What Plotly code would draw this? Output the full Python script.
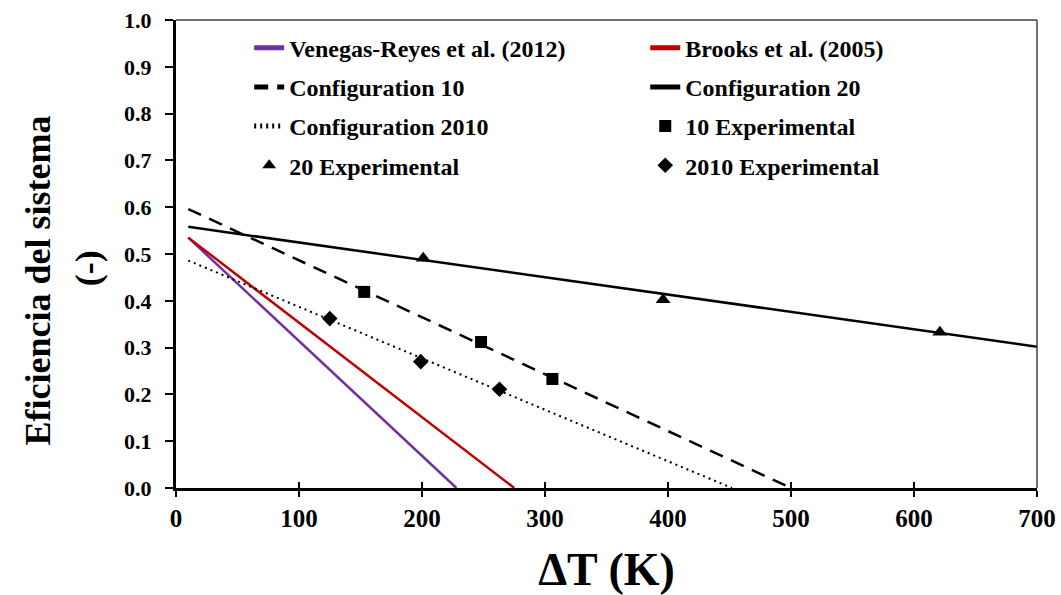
import plotly.graph_objects as go

# ---- data ----
venegas_x = [10, 228]
venegas_y = [0.535, 0.0]
brooks_x = [10, 275]
brooks_y = [0.535, 0.0]
conf10_x = [10, 500]
conf10_y = [0.596, 0.0]
conf20_x = [10, 700]
conf20_y = [0.558, 0.302]
conf2010_x = [10, 452]
conf2010_y = [0.486, 0.0]

exp10_x = [153, 248, 306]
exp10_y = [0.419, 0.312, 0.233]
exp20_x = [201, 396, 621]
exp20_y = [0.491, 0.402, 0.333]
exp2010_x = [125, 199, 263]
exp2010_y = [0.362, 0.270, 0.211]

x_ticks = [0, 100, 200, 300, 400, 500, 600, 700]
y_ticks = [0.0, 0.1, 0.2, 0.3, 0.4, 0.5, 0.6, 0.7, 0.8, 0.9, 1.0]

FONT = "Liberation Serif"
fig = go.Figure()

def line(x, y, name, color, dash, width, legend, grp):
    fig.add_trace(go.Scatter(x=x, y=y, mode="lines", name=name,
                             line=dict(color=color, dash=dash, width=width),
                             legend=legend, legendgroup=grp))

def pts(x, y, name, symbol, size, legend, grp):
    fig.add_trace(go.Scatter(x=x, y=y, mode="markers", name=name,
                             marker=dict(symbol=symbol, size=size, color="black"),
                             legend=legend, legendgroup=grp))

line(venegas_x, venegas_y, "Venegas-Reyes et al. (2012)", "#7030A0", "solid", 2.5, "legend", "a")
line(brooks_x, brooks_y, "Brooks et al. (2005)", "#C00000", "solid", 2.5, "legend2", "b")
line(conf10_x, conf10_y, "Configuration 10", "black", "14px,9px", 2.5, "legend", "c")
line(conf20_x, conf20_y, "Configuration 20", "black", "solid", 2.5, "legend2", "d")
line(conf2010_x, conf2010_y, "Configuration 2010", "black", "2px,4px", 2, "legend", "e")
pts(exp10_x, exp10_y, "10 Experimental", "square", 12, "legend2", "f")
pts(exp20_x, exp20_y, "20 Experimental", "triangle-up", 13, "legend", "g")
pts(exp2010_x, exp2010_y, "2010 Experimental", "diamond", 12, "legend2", "h")

# invisible trace to carry the overlay axis (inner half of crossing x ticks)
fig.add_trace(go.Scatter(x=[0], y=[0], xaxis="x2", mode="markers",
                         marker=dict(opacity=0), showlegend=False, hoverinfo="skip"))

legend_common = dict(font=dict(family=FONT, size=24, color="black", weight="bold"),
                     bgcolor="rgba(0,0,0,0)", tracegroupgap=5, yanchor="top",
                     xanchor="left", orientation="v", itemsizing="constant")

fig.update_layout(
    width=1061, height=595,
    margin=dict(l=176, r=24, t=20, b=107, autoexpand=False),
    paper_bgcolor="white", plot_bgcolor="white",
    font=dict(family=FONT, color="black"),
    showlegend=True,
    legend=dict(x=0.085, y=0.988, **legend_common),
    legend2=dict(x=0.545, y=0.988, **legend_common),
    xaxis=dict(range=[0, 700], tickvals=x_ticks, showline=True, linewidth=3,
               linecolor="black", ticks="outside", ticklen=6, tickwidth=2,
               tickcolor="black", showgrid=False, zeroline=False,
               ticklabeloverflow="allow",
               tickfont=dict(family=FONT, size=25, weight="bold"),
               title=dict(text="<b>ΔT (K)</b>", font=dict(family=FONT, size=46),
                          standoff=28)),
    xaxis2=dict(overlaying="x", matches="x", side="bottom", anchor="y",
                tickvals=x_ticks, ticks="inside", ticklen=6, tickwidth=2,
                tickcolor="black", showticklabels=False, showline=False,
                showgrid=False, zeroline=False),
    yaxis=dict(range=[0, 1], tickvals=y_ticks, tickformat=".1f", showline=True,
               linewidth=3, linecolor="black", ticks="outside", ticklen=8,
               tickwidth=2, tickcolor="black", showgrid=False, zeroline=False,
               ticklabelstandoff=9, ticklabeloverflow="allow",
               tickfont=dict(family=FONT, size=22, weight="bold")),
    annotations=[
        dict(text="<b>Eficiencia del sistema</b>", textangle=-90,
             xref="paper", yref="paper", x=-0.160, y=0.444,
             xanchor="center", yanchor="middle", showarrow=False,
             font=dict(family=FONT, size=36, color="black")),
        dict(text="<b>(-)</b>", textangle=-90,
             xref="paper", yref="paper", x=-0.102, y=0.470,
             xanchor="center", yanchor="middle", showarrow=False,
             font=dict(family=FONT, size=36, color="black")),
    ],
    shapes=[
        dict(type="line", xref="x domain", yref="y domain", x0=0, x1=1, y0=1, y1=1,
             line=dict(color="#404040", width=1.5)),
        dict(type="line", xref="x domain", yref="y domain", x0=1, x1=1, y0=0, y1=1,
             line=dict(color="#404040", width=1.5)),
    ],
)

fig.write_html("out.html",
               config={"displayModeBar": False},
               post_script="document.body.style.margin='0px';"
                           "document.body.style.overflow='hidden';")
